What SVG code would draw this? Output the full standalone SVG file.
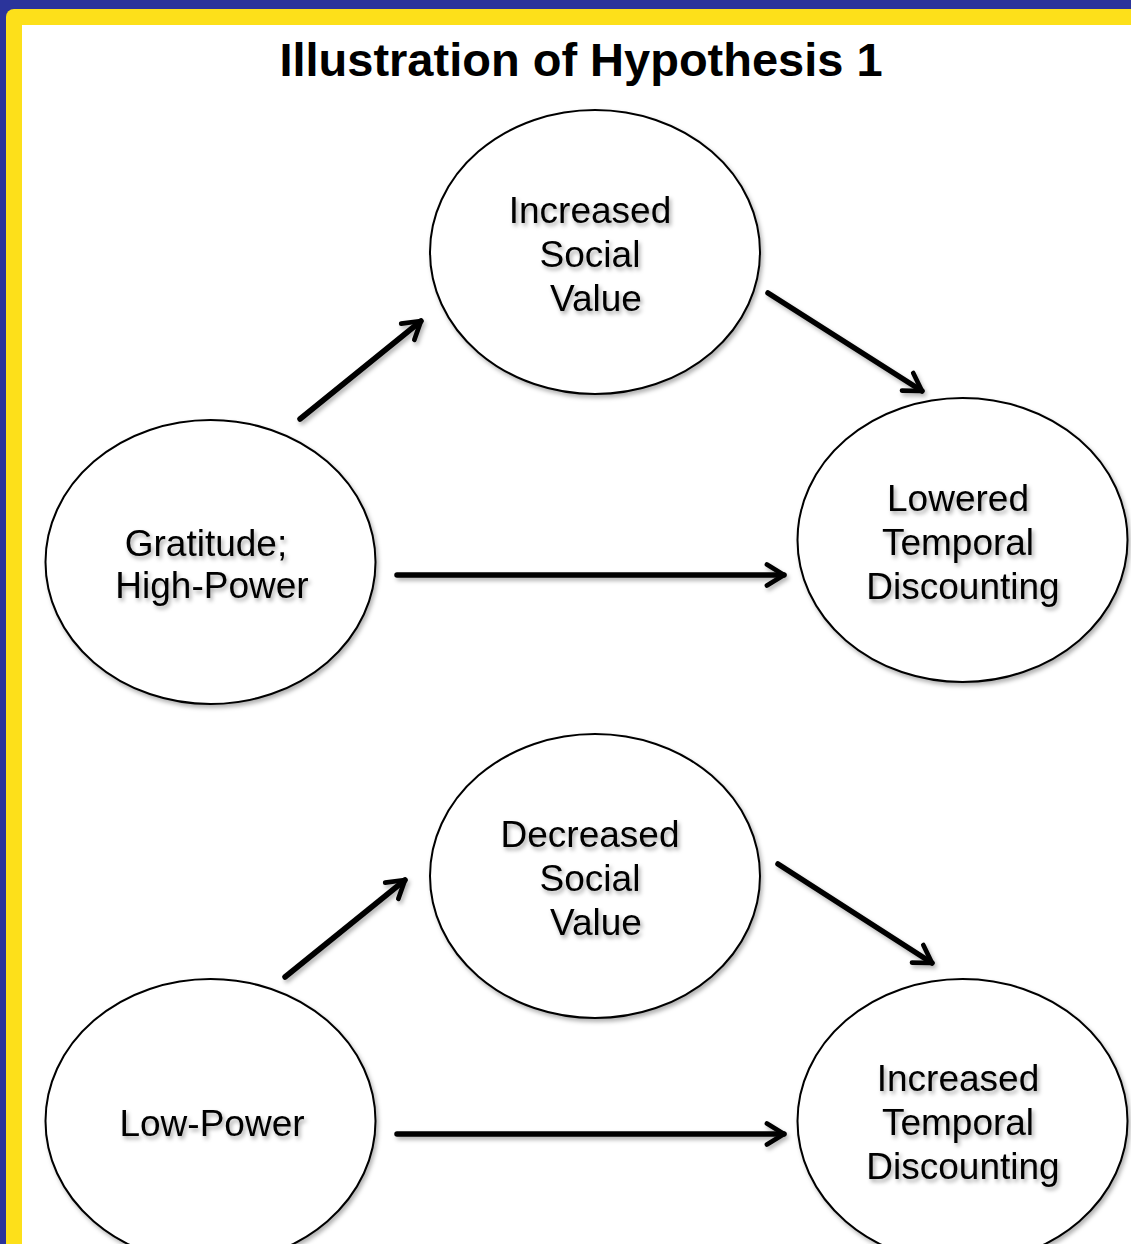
<svg xmlns="http://www.w3.org/2000/svg" width="1131" height="1244" viewBox="0 0 1131 1244">
<defs>
<style>
.node{fill:#fff;stroke:#000;stroke-width:2;filter:url(#sh)}
.lbl{font-family:"Liberation Sans",Arial,sans-serif;font-size:37px;fill:#000;text-anchor:middle;filter:url(#tsh)}
.title{font-family:"Liberation Sans",Arial,sans-serif;font-size:47px;font-weight:bold;fill:#000;text-anchor:middle}
.conn{stroke:#000;stroke-width:5.5;fill:none;stroke-linecap:round;marker-end:url(#ah)}
</style>
<filter id="sh" x="-20%" y="-20%" width="140%" height="140%">
<feDropShadow dx="2" dy="3" stdDeviation="2" flood-color="#000" flood-opacity="0.3"/>
</filter>
<filter id="csh" filterUnits="userSpaceOnUse" x="0" y="0" width="1131" height="1244">
<feDropShadow dx="2" dy="3" stdDeviation="2" flood-color="#000" flood-opacity="0.3"/>
</filter>
<filter id="tsh" x="-10%" y="-30%" width="120%" height="160%">
<feDropShadow dx="2" dy="3" stdDeviation="2" flood-color="#000" flood-opacity="0.35"/>
</filter>
<marker id="ah" viewBox="0 0 10 10" refX="9" refY="5" markerWidth="5" markerHeight="5" markerUnits="strokeWidth" orient="auto">
<path d="M2.8,1.2 L9,5 L2.8,8.8" fill="none" stroke="#000" stroke-width="1.7" stroke-linecap="round" stroke-linejoin="round"/>
</marker>
</defs>
<rect x="0" y="0" width="1131" height="1244" fill="#2b349b"/>
<rect x="6" y="9" width="1140" height="1250" rx="8" fill="#fde01a"/>
<rect x="22" y="25" width="1120" height="1230" fill="#fff"/>
<text class="title" x="581" y="76">Illustration of Hypothesis 1</text>
<g id="connectors" filter="url(#csh)">
<line class="conn" x1="300" y1="419" x2="421" y2="321"/>
<line class="conn" x1="768" y1="293" x2="922" y2="391"/>
<line class="conn" x1="397" y1="575" x2="784" y2="575"/>
<line class="conn" x1="285" y1="977" x2="405" y2="880"/>
<line class="conn" x1="778" y1="864" x2="932" y2="963"/>
<line class="conn" x1="397" y1="1134" x2="784" y2="1134"/>
</g>
<g id="n-increased-social">
<ellipse class="node" cx="595" cy="252" rx="165" ry="142"/>
<text class="lbl" x="590" y="223">Increased</text>
<text class="lbl" x="590" y="267">Social</text>
<text class="lbl" x="596" y="311">Value</text>
</g>
<g id="n-lowered-temporal">
<ellipse class="node" cx="962.5" cy="540" rx="165" ry="142"/>
<text class="lbl" x="958" y="511">Lowered</text>
<text class="lbl" x="958" y="555">Temporal</text>
<text class="lbl" x="963" y="599">Discounting</text>
</g>
<g id="n-gratitude">
<ellipse class="node" cx="210.5" cy="562" rx="165" ry="142"/>
<text class="lbl" x="206" y="556">Gratitude;</text>
<text class="lbl" x="212" y="598">High-Power</text>
</g>
<g id="n-decreased-social">
<ellipse class="node" cx="595" cy="876" rx="165" ry="142"/>
<text class="lbl" x="590" y="847">Decreased</text>
<text class="lbl" x="590" y="891">Social</text>
<text class="lbl" x="596" y="935">Value</text>
</g>
<g id="n-low-power">
<ellipse class="node" cx="210.5" cy="1121" rx="165" ry="142"/>
<text class="lbl" x="212" y="1136">Low-Power</text>
</g>
<g id="n-increased-temporal">
<ellipse class="node" cx="962.5" cy="1121" rx="165" ry="142"/>
<text class="lbl" x="958" y="1091">Increased</text>
<text class="lbl" x="958" y="1135">Temporal</text>
<text class="lbl" x="963" y="1179">Discounting</text>
</g>
</svg>
